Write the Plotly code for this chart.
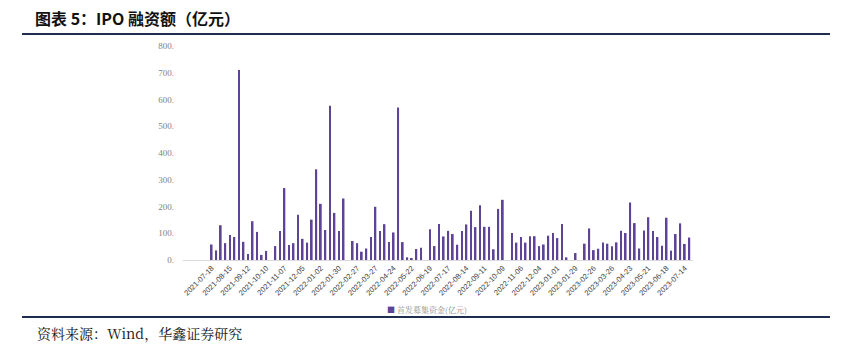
import plotly.graph_objects as go
import pandas as pd

# IPO weekly fund-raising (亿元); None = no bar
ipo_values = [58, 36, 130, 63, 93, 86, 710, 68, 22, 145,
              105, 19, 34, None, 52, 108, 269, 56, 63, 169,
              79, 65, 151, 339, 210, 112, 577, 176, 108, 230,
              None, 71, 63, 31, 43, 86, 199, 108, 134, 67,
              103, 570, 67, 10, 7, 41, 46, None, 115, 52,
              135, 88, 109, 97, 57, 108, 133, 184, 123, 205,
              124, 124, 40, 191, 225, None, 101, 65, 86, 65,
              89, 89, 52, 58, 91, 101, 82, 135, 10, None,
              26, None, 61, 118, 37, 42, 65, 61, 51, 66,
              109, 101, 215, 138, 43, 110, 160, 108, 86, 53,
              158, 35, 97, 137, 60, 84]

week_dates = pd.date_range("2021-07-18", periods=len(ipo_values), freq="7D").strftime("%Y-%m-%d").tolist()

tick_labels = ["2021-07-18", "2021-08-15", "2021-09-12", "2021-10-10", "2021-11-07",
               "2021-12-05", "2022-01-02", "2022-01-30", "2022-02-27", "2022-03-27",
               "2022-04-24", "2022-05-22", "2022-06-19", "2022-07-17", "2022-08-14",
               "2022-09-11", "2022-10-09", "2022-11-06", "2022-12-04", "2023-01-01",
               "2023-01-29", "2023-02-26", "2023-03-26", "2023-04-23", "2023-05-21",
               "2023-06-18", "2023-07-14"]
tick_positions = week_dates[::4][:len(tick_labels)]

y_ticks = [0, 100, 200, 300, 400, 500, 600, 700, 800]
y_ticktext = [f"{v}." for v in y_ticks]

series_name = "首发募集资金(亿元)"
bar_color = "#5e4496"

fig = go.Figure()
fig.add_trace(go.Bar(x=week_dates, y=ipo_values, marker_color=bar_color,
                     marker_line_width=0, name=series_name, showlegend=False))

W, H = 868, 351
L, R, T, B = 183, 175, 46, 91
pw = W - L - R
ph = H - T - B

def px(x):
    return (x - L) / pw

def py(y):
    return (H - B - y) / ph

fig.update_layout(
    width=W, height=H,
    margin=dict(l=L, r=R, t=T, b=B),
    paper_bgcolor="white", plot_bgcolor="white",
    bargap=0.62,
    xaxis=dict(type="category", range=[-6.3, 105.8],
               tickmode="array", tickvals=tick_positions, ticktext=tick_labels,
               tickangle=-45, showline=True, linecolor="#d9d9d9", linewidth=1,
               showgrid=False, ticks="", zeroline=False,
               tickfont=dict(family="Liberation Sans, Arial", size=7.5, color="#404040")),
    yaxis=dict(range=[0, 800], tickmode="array", tickvals=y_ticks, ticktext=y_ticktext,
               showgrid=False, showline=False, zeroline=False, ticks="",
               ticklabelstandoff=8,
               tickfont=dict(family="Liberation Serif, Times New Roman", size=9, color="#7f7f7f")),
    font=dict(family="Noto Sans CJK SC"),
)

shapes = []
for yy in (34, 317):
    shapes.append(dict(type="line", xref="paper", yref="paper",
                       x0=px(22), x1=px(830), y0=py(yy), y1=py(yy),
                       line=dict(color="#1f2d4f", width=2.2)))
fig.update_layout(shapes=shapes)

fig.add_annotation(xref="paper", yref="paper", x=px(33), y=py(18),
                   xanchor="left", yanchor="middle", showarrow=False,
                   text="<b>图表 5：IPO 融资额（亿元）</b>",
                   font=dict(family="Noto Sans CJK SC", size=16, color="#111111"))
fig.add_annotation(xref="paper", yref="paper", x=px(35), y=py(333),
                   xanchor="left", yanchor="middle", showarrow=False,
                   text="资料来源：Wind，华鑫证券研究",
                   font=dict(family="Noto Serif CJK SC, Noto Sans CJK SC", size=14, color="#111111"))
fig.add_annotation(xref="paper", yref="paper", x=px(385), y=py(309),
                   xanchor="left", yanchor="middle", showarrow=False,
                   text=f"<span style='color:{bar_color}'>■</span> {series_name}",
                   font=dict(family="Noto Serif CJK SC, Noto Sans CJK SC", size=8, color="#8c8c8c"))

fig.write_html("out.html")
